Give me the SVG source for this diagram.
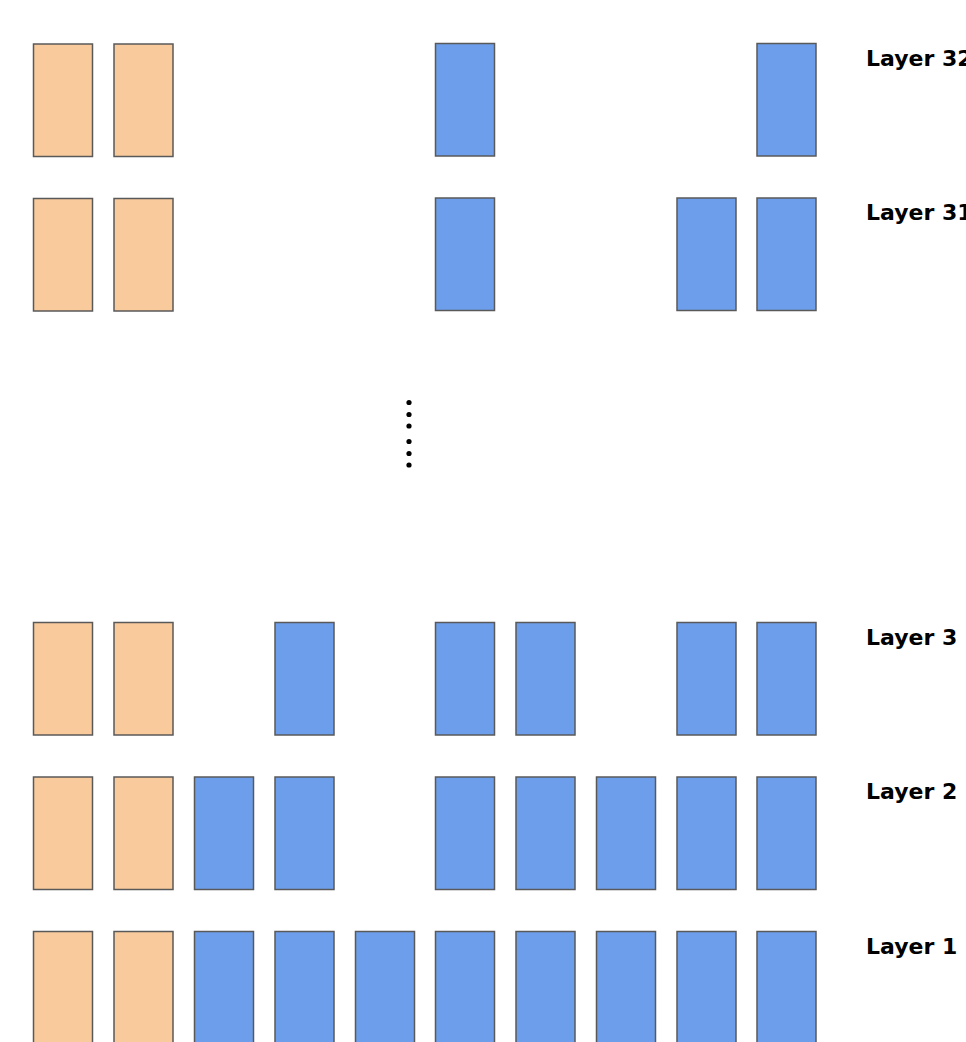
<svg xmlns="http://www.w3.org/2000/svg" width="966" height="1042" viewBox="0 0 966 1042">
<style>
.o{fill:#F9CB9C;stroke:#595959;stroke-width:1.5}
.b{fill:#6D9EEB;stroke:#595959;stroke-width:1.5}
.t{font-family:"DejaVu Sans",sans-serif;font-weight:bold;font-size:22px;fill:#000}
</style>
<defs>
<rect id="r" width="59" height="112.5"/>
</defs>
<rect width="966" height="1042" fill="#fff"/>
<g id="layer32">
<use href="#r" class="o" x="33.5" y="44"/>
<use href="#r" class="o" x="114" y="44"/>
<use href="#r" class="b" x="435.5" y="43.5"/>
<use href="#r" class="b" x="757" y="43.5"/>
<text class="t" x="866" y="66">Layer 32</text>
</g>
<g id="layer31">
<use href="#r" class="o" x="33.5" y="198.5"/>
<use href="#r" class="o" x="114" y="198.5"/>
<use href="#r" class="b" x="435.5" y="198"/>
<use href="#r" class="b" x="677" y="198"/>
<use href="#r" class="b" x="757" y="198"/>
<text class="t" x="866" y="220">Layer 31</text>
</g>
<g id="ellipsis" fill="#000">
<circle cx="409" cy="402.5" r="2.6"/>
<circle cx="409" cy="414.5" r="2.6"/>
<circle cx="409" cy="426" r="2.6"/>
<circle cx="409" cy="441.5" r="2.6"/>
<circle cx="409" cy="453.5" r="2.6"/>
<circle cx="409" cy="465" r="2.6"/>
</g>
<g id="layer3">
<use href="#r" class="o" x="33.5" y="622.5"/>
<use href="#r" class="o" x="114" y="622.5"/>
<use href="#r" class="b" x="275" y="622.5"/>
<use href="#r" class="b" x="435.5" y="622.5"/>
<use href="#r" class="b" x="516" y="622.5"/>
<use href="#r" class="b" x="677" y="622.5"/>
<use href="#r" class="b" x="757" y="622.5"/>
<text class="t" x="866" y="645">Layer 3</text>
</g>
<g id="layer2">
<use href="#r" class="o" x="33.5" y="777"/>
<use href="#r" class="o" x="114" y="777"/>
<use href="#r" class="b" x="194.5" y="777"/>
<use href="#r" class="b" x="275" y="777"/>
<use href="#r" class="b" x="435.5" y="777"/>
<use href="#r" class="b" x="516" y="777"/>
<use href="#r" class="b" x="596.5" y="777"/>
<use href="#r" class="b" x="677" y="777"/>
<use href="#r" class="b" x="757" y="777"/>
<text class="t" x="866" y="799">Layer 2</text>
</g>
<g id="layer1">
<use href="#r" class="o" x="33.5" y="931.5"/>
<use href="#r" class="o" x="114" y="931.5"/>
<use href="#r" class="b" x="194.5" y="931.5"/>
<use href="#r" class="b" x="275" y="931.5"/>
<use href="#r" class="b" x="355.5" y="931.5"/>
<use href="#r" class="b" x="435.5" y="931.5"/>
<use href="#r" class="b" x="516" y="931.5"/>
<use href="#r" class="b" x="596.5" y="931.5"/>
<use href="#r" class="b" x="677" y="931.5"/>
<use href="#r" class="b" x="757" y="931.5"/>
<text class="t" x="866" y="954">Layer 1</text>
</g>
<g id="connectors"/>
</svg>
